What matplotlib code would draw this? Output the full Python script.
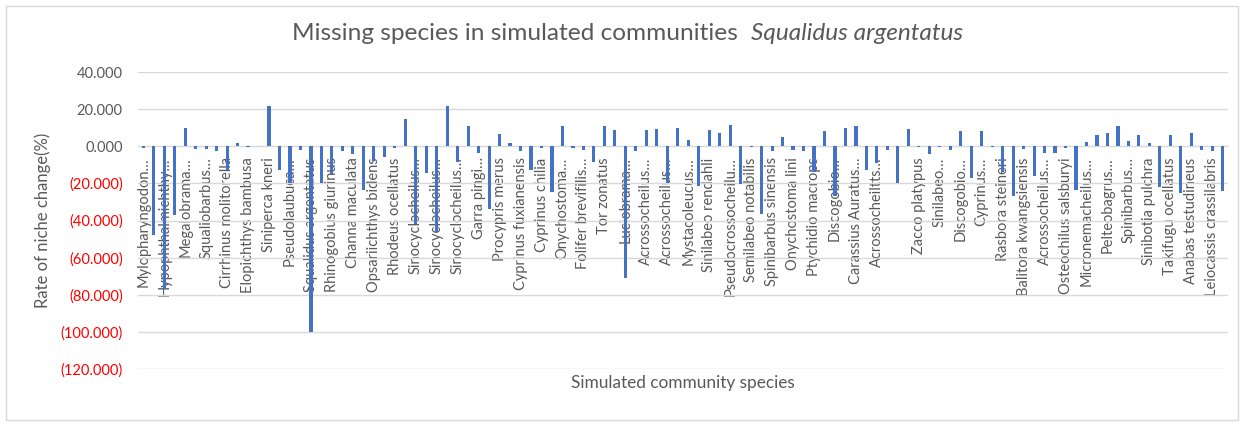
import matplotlib
matplotlib.use("Agg")
import matplotlib.pyplot as plt
from matplotlib.patches import Rectangle
from matplotlib.ticker import FixedLocator, FuncFormatter

plt.rcParams['font.family'] = ['Lato', 'DejaVu Sans']

# Species names shown on the category axis (every second community)
species_labels = [
    "Mylopharyngodon…", "Hypophthalmichthy…", "Megalobrama…", "Squaliobarbus…",
    "Cirrhinus molitorella", "Elopichthys bambusa", "Siniperca kneri", "Pseudolaubuca…",
    "Squalidus argentatus", "Rhinogobius giurinus", "Channa maculata", "Opsariichthys bidens",
    "Rhodeus ocellatus", "Sinocyclocheilus…", "Sinocyclocheilus…", "Sinocyclocheilus…",
    "Garra pingi…", "Procypris merus", "Cyprinus fuxianensis", "Cyprinus chilia",
    "Onychostoma…", "Folifer brevifilis…", "Tor zonatus", "Luciobrama…",
    "Acrossocheilus…", "Acrossocheilus…", "Mystacoleucus…", "Sinilabeo rendahli",
    "Pseudocrossocheilu…", "Semilabeo notabilis", "Spinibarbus sinensis", "Onychostoma lini",
    "Ptychidio macrops", "Discogobio…", "Carassius Auratus…", "Acrossocheiltts…",
    "", "Zacco platypus", "Sinilabeo…", "Discogobio…",
    "Cyprinus…", "Rasbora steineri", "Balitora kwangsiensis", "Acrossocheilus…",
    "Osteochilus salsburyi", "Micronemacheilus…", "Pelteobagrus…", "Spinibarbus…",
    "Sinibotia pulchra", "Takifugu ocellatus", "Anabas testudineus", "Leiocassis crassilabris",
]

# Rate of niche change (%) for each simulated community
niche_change = [
    -1.0, -48.0, -77.0, -37.0, 10.1, -1.3, -1.6, -2.7,
    -13.0, 1.8, -0.5, 0.0, 21.6, -13.0, -20.0, -1.8,
    -100.0, -20.0, -15.0, -2.5, -4.3, -23.7, -8.0, -6.0,
    -0.8, 14.9, -42.0, -14.4, -46.0, 21.6, -8.5, 11.0,
    -3.4, -33.6, 6.6, 2.0, -2.5, -13.0, -0.9, -24.6,
    11.0, -0.9, -1.8, -8.5, 11.0, 8.8, -71.0, -2.7,
    8.5, 9.5, -20.0, 9.7, 3.4, -21.2, 8.6, 7.4,
    11.2, -20.1, -0.5, -36.7, -2.7, 5.0, -1.8, -2.5,
    -14.0, 8.1, -27.0, 9.9, 10.8, -13.0, -9.0, -2.2,
    -19.8, 9.5, -0.5, -4.0, -0.5, -2.2, 8.1, -17.1,
    8.3, -0.5, -14.0, -26.8, -1.5, -16.2, -3.4, -3.6,
    -1.0, -23.7, 2.3, 5.9, 7.4, 10.8, 2.9, 6.3,
    2.0, -21.9, 6.3, -25.2, 7.4, -2.2, -2.5, -24.1,
]

y_ticks = [40, 20, 0, -20, -40, -60, -80, -100, -120]

title_main = "Missing species in simulated communities"
title_species = "Squalidus argentatus"

BAR = "#4472C4"
TXT = "#595959"
GRID = "#D9D9D9"

W, H = 1244, 424
fig = plt.figure(figsize=(W / 100, H / 100), dpi=100)
fig.patch.set_facecolor("white")

# chart border
fig.patches.append(Rectangle((6 / W, 4 / H), 1232 / W, 414 / H, transform=fig.transFigure,
                             fill=False, edgecolor=GRID, linewidth=1.0))

ax = fig.add_axes([138 / W, 1 - 369 / H, 1090 / W, 297 / H])
x = list(range(len(niche_change)))
ax.bar(x, niche_change, width=0.3, color=BAR, zorder=3)

ax.set_xlim(-0.5, len(niche_change) - 0.5)
ax.set_ylim(-120, 40)
ax.yaxis.set_major_locator(FixedLocator(y_ticks))


def fmt(v, pos=None):
    return f"{v:.3f}" if v >= 0 else f"({abs(v):.3f})"


ax.yaxis.set_major_formatter(FuncFormatter(fmt))
ax.tick_params(axis="y", length=0, pad=11, labelsize=10.5)
for lab, v in zip(ax.get_yticklabels(), y_ticks):
    lab.set_color(TXT if v >= 0 else "red")

ax.grid(axis="y", color=GRID, linewidth=1.0, zorder=0)
for s in ["top", "right", "left"]:
    ax.spines[s].set_visible(False)
ax.spines["bottom"].set_position(("data", 0))
ax.spines["bottom"].set_color(GRID)
ax.spines["bottom"].set_zorder(2)

label_pos = x[::2]
ax.set_xticks(label_pos)
ax.set_xticklabels(species_labels, rotation=90, fontsize=10.5, color=TXT, va="top", ha="center")
ax.tick_params(axis="x", length=0, pad=8)

ax.set_ylabel("Rate of niche change(%)", fontsize=12, color=TXT)
ax.yaxis.set_label_coords(-0.0800, 0.5)

fig.text(683 / W, 1 - 383 / H, "Simulated community species", ha="center", va="center",
         fontsize=12.4, color=TXT)

# two-part title: plain text followed by the italic species name, centred as a whole
t1 = fig.text(0, 1 - 33 / H, title_main, ha="left", va="center", fontsize=17.6, color=TXT)
t2 = fig.text(0, 1 - 33 / H, title_species, ha="left", va="center", fontsize=17.6,
              color=TXT, style="italic")
renderer = fig.canvas.get_renderer()
w1 = t1.get_window_extent(renderer).width
w2 = t2.get_window_extent(renderer).width
gap = 14
start = 627.5 - (w1 + gap + w2) / 2
t1.set_x(start / W)
t2.set_x((start + w1 + gap) / W)

fig.savefig("out.png", dpi=100, facecolor="white")
